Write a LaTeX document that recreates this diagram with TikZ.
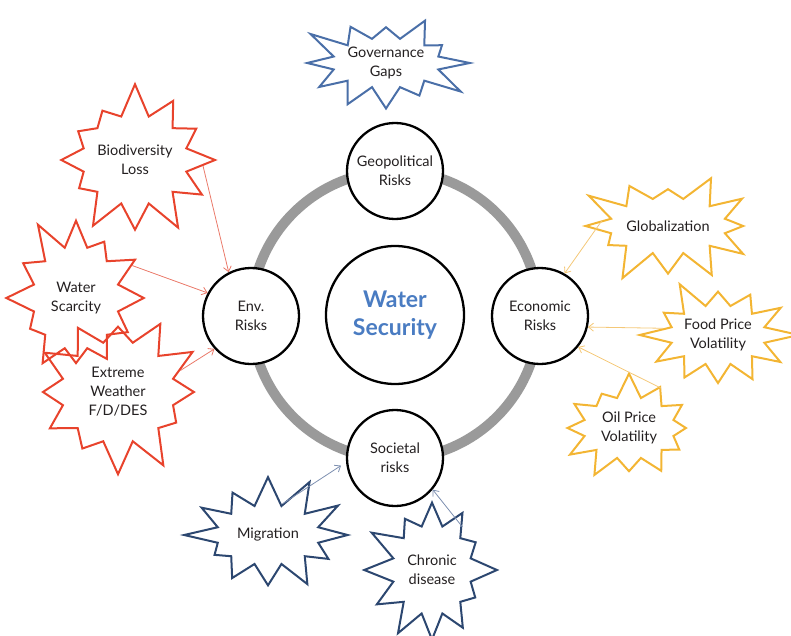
\documentclass[tikz,border=0pt]{standalone}
\usepackage{fontspec}
\setmainfont{Lato}
\usetikzlibrary{shapes.symbols,arrows.meta}
\definecolor{txt}{HTML}{231F20}
\definecolor{ringgray}{HTML}{9A9A9A}
\definecolor{wsblue}{HTML}{4A7CC2}
\definecolor{envred}{HTML}{E8432C}
\definecolor{envredl}{HTML}{EA7A6A}
\definecolor{navy}{HTML}{2C4770}
\definecolor{navyl}{HTML}{7D8FB0}
\definecolor{govblue}{HTML}{4A6FA8}
\definecolor{ecoyel}{HTML}{F3B533}
\definecolor{ecoyell}{HTML}{F4C878}
\begin{document}
\begin{tikzpicture}[x=1pt,y=-1pt,
  risk/.style={circle, draw=black, line width=2.3pt, fill=white, minimum size=96pt,
    inner sep=0pt, align=center, font=\fontsize{14.5}{19}\selectfont, text=txt},
  burst/.style={starburst, draw=#1, line width=2pt, align=center, inner sep=0pt,
    font=\fontsize{14.5}{19}\selectfont, text=txt, starburst points=12,
    starburst point height=34pt},
  link/.style={draw=#1, line width=0.8pt, -{Straight Barb[length=5pt,width=8pt]}}]
\useasboundingbox (0,0) rectangle (791,636);
% ring
\node[circle, draw=ringgray, line width=10pt, minimum size=288pt, inner sep=0pt] (ring) at (395,315) {};
% central and risk circles
\node[circle, draw=black, line width=2.3pt, fill=white, minimum size=138pt, inner sep=0pt,
  align=center, font=\fontsize{23}{28}\selectfont\bfseries, text=wsblue] (ws) at (395,315) {Water\\Security};
\node[risk] (geo) at (395,171) {Geopolitical\\Risks};
\node[risk] (env) at (251,316) {Env.\\Risks};
\node[risk] (eco) at (540,316) {Economic\\Risks};
\node[risk] (soc) at (395,458) {Societal\\risks};
% starbursts
\node[burst=govblue, minimum width=160pt, minimum height=118pt, random starburst=3] (gov) at (386,63) {Governance\\Gaps};
\node[burst=envred, minimum width=170pt, minimum height=158pt, random starburst=7] (bio) at (135,160) {Biodiversity\\Loss};
\node[burst=envred, minimum width=155pt, minimum height=172pt, random starburst=11] (wsc) at (76,298) {Water\\Scarcity};
\node[burst=envred, minimum width=182pt, minimum height=170pt, random starburst=19] (ext) at (118,392) {Extreme\\Weather\\F/D/DES};
\node[burst=ecoyel, minimum width=172pt, minimum height=124pt, random starburst=23] (glo) at (668,226) {Globalization};
\node[burst=ecoyel, minimum width=164pt, minimum height=128pt, random starburst=29] (food) at (718,335) {Food Price\\Volatility};
\node[burst=ecoyel, minimum width=160pt, minimum height=130pt, random starburst=31] (oil) at (629,428) {Oil Price\\Volatility};
\node[burst=navy, minimum width=172pt, minimum height=128pt, random starburst=37] (mig) at (268,535) {Migration};
\node[burst=navy, minimum width=148pt, minimum height=158pt, random starburst=41] (chr) at (432,570) {Chronic\\disease};
% links
\draw[link=envredl] (bio.-5) -- (env.117);
\draw[link=envredl] (wsc.30) -- (env.152);
\draw[link=envredl] (ext.19) -- (env.222);
\draw[link=ecoyell] (glo.175) -- (eco.60);
\draw[link=ecoyell] (food.173) -- (eco.-13);
\draw[link=ecoyell] (oil.51) -- (eco.-39);
\draw[link=navyl, shorten >=6pt] (mig.65) -- (soc.185);
\draw[link=navyl] (chr.55) -- (soc.-40);
\end{tikzpicture}
\end{document}
